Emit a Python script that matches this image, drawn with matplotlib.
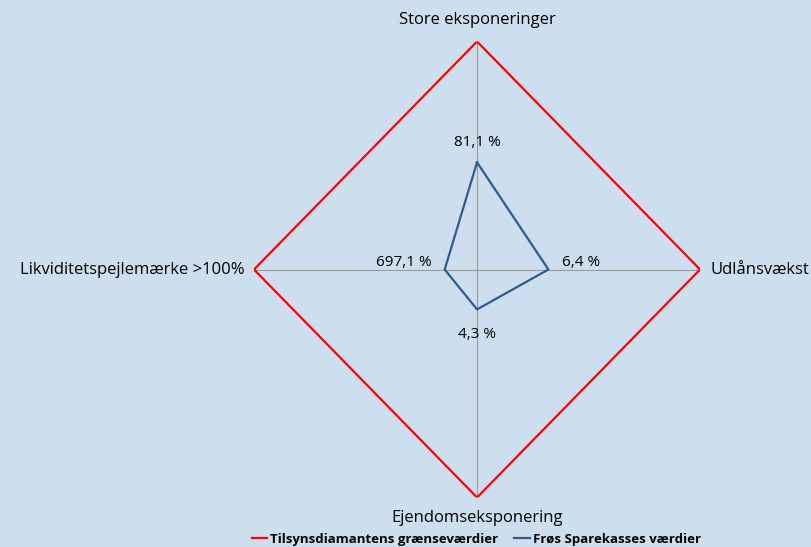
import numpy as np
import matplotlib
matplotlib.use("Agg")
import matplotlib.pyplot as plt

# axes of the diamond (clockwise from top)
axes_labels = ["Store eksponeringer", "Udlånsvækst", "Ejendomseksponering", "Likviditetspejlemærke >100%"]
limit_values = [1.0, 1.0, 1.0, 1.0]           # supervisory limits (outer diamond)
bank_values = [0.47, 0.32, 0.175, 0.145]      # bank values relative to limit
value_labels = ["81,1 %", "6,4 %", "4,3 %", "697,1 %"]
series_names = ["Tilsynsdiamantens grænseværdier", "Frøs Sparekasses værdier"]

bg = "#cddeee"
plt.rcParams["font.family"] = ["Open Sans", "DejaVu Sans"]

fig = plt.figure(figsize=(8.11, 5.47), dpi=100, facecolor=bg)
ax = fig.add_axes([0.3132, 0.0905, 0.550, 0.8336], projection="polar", facecolor=bg)
ax.set_aspect("auto")
ax.set_theta_zero_location("N")
ax.set_theta_direction(-1)

theta = np.deg2rad([0, 90, 180, 270])
th_closed = np.append(theta, theta[0])

l1, = ax.plot(th_closed, limit_values + limit_values[:1], color="#ff0000", lw=1.6, label=series_names[0])
l2, = ax.plot(th_closed, bank_values + bank_values[:1], color="#2f5b8e", lw=1.6, label=series_names[1])

ax.set_ylim(0, 1)
ax.set_yticks([])
ax.set_thetagrids(np.rad2deg(theta), labels=[""] * 4)
ax.xaxis.grid(True, color="#a09a96", lw=0.8)
ax.spines["polar"].set_visible(False)

# category labels
ax.text(theta[0], 1.06, axes_labels[0], ha="center", va="bottom", fontsize=12)
ax.text(theta[1], 1.045, axes_labels[1], ha="left", va="center", fontsize=12)
ax.text(theta[2], 1.055, axes_labels[2], ha="center", va="top", fontsize=12)
ax.text(theta[3], 1.04, axes_labels[3], ha="right", va="center", fontsize=12)

# value labels
ax.text(theta[0], bank_values[0] + 0.085, value_labels[0], ha="center", va="center", fontsize=11)
ax.text(theta[1], bank_values[1] + 0.06, value_labels[1], ha="left", va="bottom", fontsize=11)
ax.text(theta[2], bank_values[2] + 0.11, value_labels[2], ha="center", va="center", fontsize=11)
ax.text(theta[3], bank_values[3] + 0.06, value_labels[3], ha="right", va="bottom", fontsize=11)

fig.legend(handles=[l1, l2], loc="lower center", bbox_to_anchor=(0.587, -0.02), ncol=2,
           frameon=False, prop={"weight": "bold", "size": 9.5}, handlelength=1.2,
           handletextpad=0.2, columnspacing=1.2)

fig.savefig("out.png", dpi=100, facecolor=bg)
